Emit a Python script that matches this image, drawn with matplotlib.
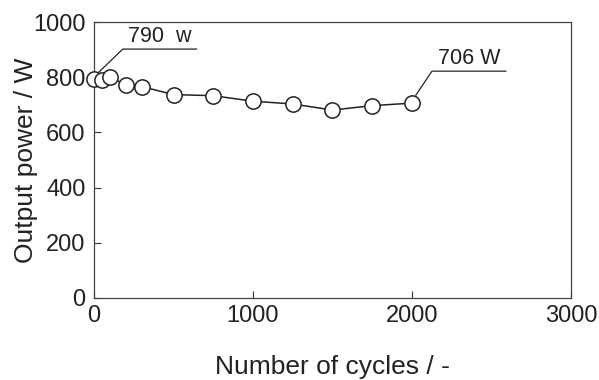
import matplotlib
matplotlib.use('Agg')
import matplotlib.pyplot as plt

plt.rcParams['font.family'] = ['Liberation Sans', 'DejaVu Sans']

# datos
cycles = [0, 50, 100, 200, 300, 500, 750, 1000, 1250, 1500, 1750, 2000]
power = [793, 790, 800, 773, 766, 737, 733, 713, 703, 681, 697, 706]

fig = plt.figure(figsize=(5.99, 3.8), dpi=100)
ax = fig.add_axes([0.157, 0.216, 0.796, 0.726])

ax.plot(cycles, power, '-o', color='#222222', lw=1.1, markersize=11,
        markerfacecolor='white', markeredgecolor='#222222', markeredgewidth=1.1,
        clip_on=False, zorder=3)

# etiquetas con linea guia
ax.plot([15, 181, 645], [810, 902, 902], color='#222222', lw=0.9, clip_on=False)
ax.text(413, 908, '790  w', fontsize=15.5, ha='center', va='bottom', color='#222222')
ax.plot([2025, 2126, 2591], [735, 822, 822], color='#222222', lw=0.9, clip_on=False)
ax.text(2358, 828, '706 W', fontsize=15.5, ha='center', va='bottom', color='#222222')

ax.set_xlim(0, 3000)
ax.set_ylim(0, 1000)
ax.set_xticks([0, 1000, 2000, 3000])
ax.set_yticks([0, 200, 400, 600, 800, 1000])
ax.tick_params(direction='in', length=5, width=0.8, labelsize=17,
               labelcolor='#222222', color='#333333')
ax.tick_params(axis='x', pad=5)
ax.tick_params(axis='y', pad=6)
for s in ax.spines.values():
    s.set_linewidth(0.9)
    s.set_color('#444444')

ax.set_xlabel('Number of cycles / -', fontsize=19, labelpad=20, color='#222222')
ax.set_ylabel('Output power / W', fontsize=19, color='#222222')
ax.yaxis.set_label_coords(-0.118, 0.5)

plt.savefig('out.png', dpi=100)
